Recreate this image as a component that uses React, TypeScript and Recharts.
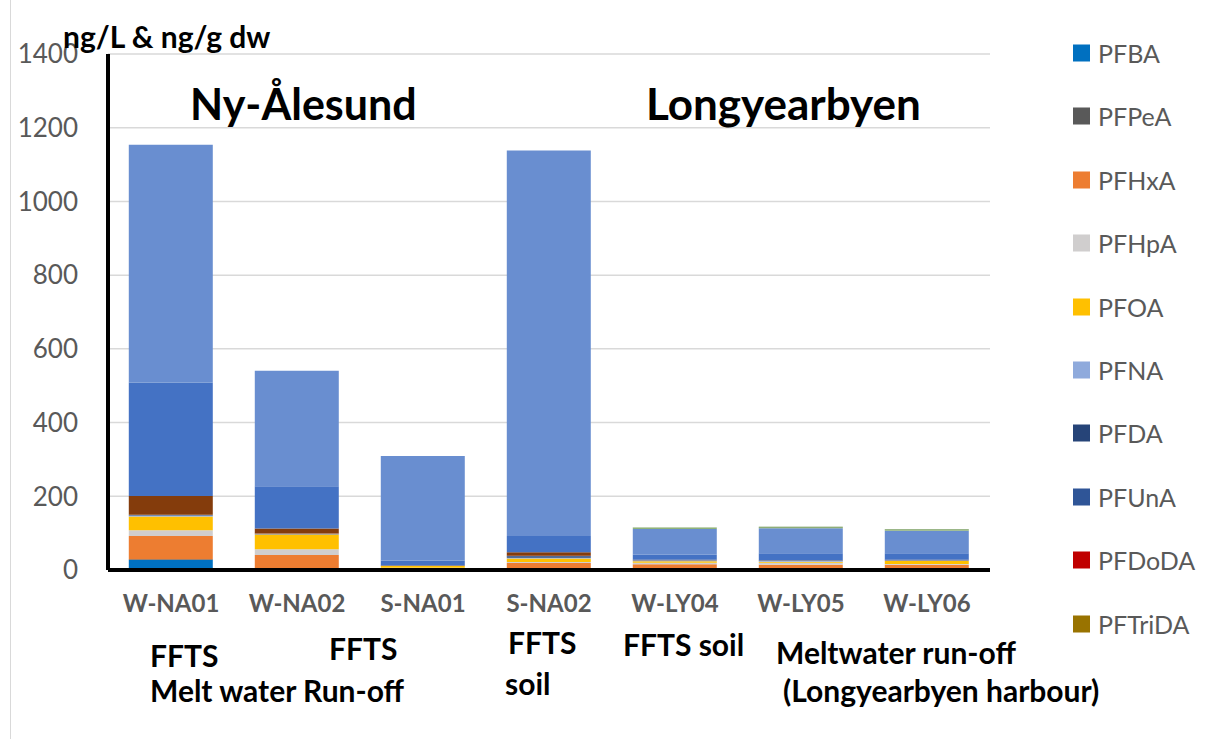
import { Bar, BarChart, CartesianGrid, XAxis, YAxis } from "recharts";

const FONT = "Lato, 'Open Sans', sans-serif";

const categories = ["W-NA01", "W-NA02", "S-NA01", "S-NA02", "W-LY04", "W-LY05", "W-LY06"];

// ng/L (water) & ng/g dw (soil), stacked bottom -> top
const PFBA = [27, 3, 1, 2, 1, 1, 1];
const PFPeA = [2, 1, 0, 2, 0.5, 0.5, 0.5];
const PFHxA = [63, 37, 4, 15, 14, 13, 13];
const PFHpA = [16, 15, 1, 3, 4, 5, 2];
const PFOA = [37, 40, 5, 9, 4, 3, 8];
const PFNA = [2, 1, 0, 2, 2, 2, 1];
const PFDA = [1, 1, 0, 4, 0.5, 0.5, 0.5];
const PFUnA = [1, 0.5, 0, 1, 0.5, 0.5, 0.5];
const PFDoDA = [0.5, 0.5, 0, 0.5, 0, 0, 0];
const PFTriDA = [0.5, 0.5, 0, 0.5, 0, 0, 0];
const PFOS = [51, 13, 1, 9, 1, 1, 1];
const FTS62 = [308, 115, 13.5, 44, 14, 19, 18];
const FTS82 = [645, 313, 284, 1046, 70, 68, 61];
const FTS102 = [0, 0, 0, 0, 3, 2, 3];
const FOSA = [0, 0, 0, 0, 1, 2, 1];

const yTicks = [0, 200, 400, 600, 800, 1000, 1200, 1400];

const series = [
  { key: "PFBA", values: PFBA, color: "#0070c0" },
  { key: "PFPeA", values: PFPeA, color: "#595959" },
  { key: "PFHxA", values: PFHxA, color: "#ed7d31" },
  { key: "PFHpA", values: PFHpA, color: "#d0cece" },
  { key: "PFOA", values: PFOA, color: "#ffc000" },
  { key: "PFNA", values: PFNA, color: "#8faadc" },
  { key: "PFDA", values: PFDA, color: "#264478" },
  { key: "PFUnA", values: PFUnA, color: "#2f5597" },
  { key: "PFDoDA", values: PFDoDA, color: "#c00000" },
  { key: "PFTriDA", values: PFTriDA, color: "#997300" },
  { key: "PFOS", values: PFOS, color: "#843c0c" },
  { key: "6:2 FTS", values: FTS62, color: "#4472c4" },
  { key: "8:2 FTS", values: FTS82, color: "#698ed0" },
  { key: "10:2 FTS", values: FTS102, color: "#8fb27a" },
  { key: "FOSA", values: FOSA, color: "#548235" },
];

// the original legend only shows the first ten compounds
const legendItems = series.slice(0, 10);

const data = categories.map((name, i) => {
  const row: Record<string, string | number> = { name };
  series.forEach((s) => (row[s.key] = s.values[i]));
  return row;
});

const notes = [
  { text: "FFTS", left: 150, top: 655 },
  { text: "Melt water Run-off", left: 150, top: 690 },
  { text: "FFTS", left: 329, top: 648 },
  { text: "FFTS", left: 508, top: 642 },
  { text: "soil", left: 505, top: 683 },
  { text: "FFTS soil", left: 623, top: 644 },
  { text: "Meltwater run-off", left: 776, top: 652 },
  { text: "(Longyearbyen harbour)", left: 783, top: 690 },
];

function CategoryTick({ x, y, payload }: any) {
  return (
    <text x={x} y={y + 40} textAnchor="middle" fill="#595959" fontSize={24} fontWeight={700} fontFamily={FONT}>
      {payload.value}
    </text>
  );
}

export default function App() {
  return (
    <div style={{ position: "absolute", left: 0, top: 0, width: 1216, height: 739, background: "#fff", fontFamily: FONT }}>
      <div style={{ position: "absolute", left: 10, top: 0, width: 1, height: 739, background: "#d9d9d9" }} />
      <BarChart
        width={1216}
        height={739}
        data={data}
        margin={{ top: 54, right: 226, bottom: 109, left: 28 }}
        barCategoryGap="16.5%"
      >
        <CartesianGrid vertical={false} stroke="#d9d9d9" strokeWidth={1.5} />
        <XAxis
          dataKey="name"
          height={60}
          axisLine={{ stroke: "#000", strokeWidth: 4 }}
          tickLine={false}
          tickSize={0}
          tick={<CategoryTick />}
          interval={0}
        />
        <YAxis
          width={80}
          domain={[0, 1400]}
          ticks={yTicks}
          axisLine={{ stroke: "#000", strokeWidth: 4 }}
          tickLine={false}
          tickSize={0}
          tickMargin={30}
          tick={{ fill: "#595959", fontSize: 26, fontFamily: FONT }}
        />
        {series.map((s) => (
          <Bar key={s.key} dataKey={s.key} stackId="a" fill={s.color} isAnimationActive={false} />
        ))}
      </BarChart>

      <div style={{ position: "absolute", left: 63, top: 36, transform: "translateY(-50%)", fontSize: 30, fontWeight: 700, color: "#000", lineHeight: 1, whiteSpace: "nowrap" }}>
        ng/L &amp; ng/g dw
      </div>
      <div style={{ position: "absolute", left: 190, top: 103, transform: "translateY(-50%)", fontSize: 43, fontWeight: 700, color: "#000", lineHeight: 1 }}>
        Ny-Ålesund
      </div>
      <div style={{ position: "absolute", left: 646, top: 103, transform: "translateY(-50%)", fontSize: 44, fontWeight: 700, color: "#000", lineHeight: 1 }}>
        Longyearbyen
      </div>

      {notes.map((n, i) => (
        <div
          key={i}
          style={{ position: "absolute", left: n.left, top: n.top, transform: "translateY(-50%)", fontSize: 30, fontWeight: 700, color: "#000", lineHeight: 1, whiteSpace: "nowrap" }}
        >
          {n.text}
        </div>
      ))}

      {legendItems.map((s, i) => (
        <div
          key={s.key}
          style={{ position: "absolute", left: 1073, top: 53 + i * 63.4, transform: "translateY(-50%)", display: "flex", alignItems: "center", lineHeight: 1 }}
        >
          <span style={{ display: "inline-block", width: 17, height: 17, background: s.color, marginRight: 8 }} />
          <span style={{ fontSize: 25, color: "#595959" }}>{s.key}</span>
        </div>
      ))}
    </div>
  );
}
